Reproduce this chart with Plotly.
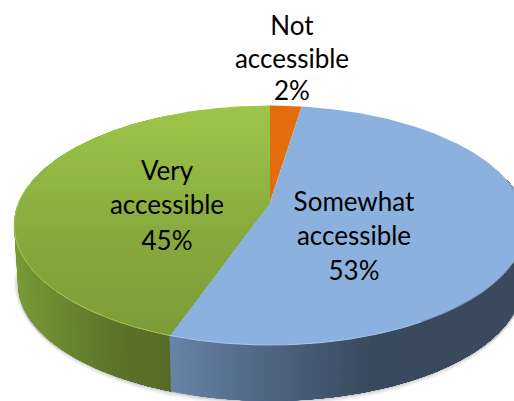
import numpy as np
import plotly.graph_objects as go

# Data
categories = ["Not accessible", "Somewhat accessible", "Very accessible"]
values = [2.4, 52.9, 44.7]
label_names = [["Not", "accessible"], ["Somewhat", "accessible"], ["Very", "accessible"]]
top_colors = ["#E46C0A", "#8CB1DF", "#8FB340"]

# View geometry (a tilted disc seen in perspective, in page pixels)
W, H = 514, 401
CX, CY = 270, 202
A, B, K = 251, 115.2, 0.1946
DEPTH, SHRINK = 58, 0.985
label_pos = {0: (292, [28, 61, 93]), 1: (354, [204, 238, 273]), 2: (167, [173, 207, 243])}


def proj(theta_deg, r=1.0, bottom=False):
    t = np.radians(theta_deg)
    u, v = r * np.sin(t), r * np.cos(t)
    w = 1 + K * v
    s = SHRINK if bottom else 1.0
    return CX + s * A * u / w, CY - s * B * v / w + (DEPTH if bottom else 0)


def arc(a, b, n=None, **kw):
    n = n or max(2, int(abs(b - a) * 2) + 1)
    return proj(np.linspace(a, b, n), **kw)


def clip_below(xs, ys, y0):
    ox, oy = [], []
    m = len(xs)
    for i in range(m):
        x1, y1, x2, y2 = xs[i], ys[i], xs[(i + 1) % m], ys[(i + 1) % m]
        if y1 >= y0:
            ox.append(x1); oy.append(y1)
        if (y1 >= y0) != (y2 >= y0):
            f = (y0 - y1) / (y2 - y1)
            ox.append(x1 + f * (x2 - x1)); oy.append(y0)
    return ox, oy


def mix(stops, p):
    ps = [s[0] for s in stops]
    ch = [np.interp(p, ps, [s[1][i] for s in stops]) for i in range(3)]
    return "rgb(%d,%d,%d)" % tuple(round(c) for c in ch)


fig = go.Figure()


def poly(x, y, color):
    fig.add_trace(go.Scatter(x=list(x), y=list(y), mode="lines", fill="toself", fillcolor=color,
                             line=dict(width=0), hoverinfo="skip", showlegend=False))


def line(x, y, color, width):
    fig.add_trace(go.Scatter(x=list(x), y=list(y), mode="lines", line=dict(color=color, width=width),
                             hoverinfo="skip", showlegend=False))


total = sum(values)
bounds = np.cumsum([0] + [v / total * 360 for v in values])
front_l, front_r = 281.2, 78.8
b_blue_green = bounds[2]

# Soft shadow below the wall
for grow, alpha in [(5, 0.06), (3.5, 0.08), (2, 0.10), (1, 0.12)]:
    x, y = arc(front_r - 10, front_l + 10, bottom=True)
    poly(np.r_[x, x[::-1]], np.r_[y + grow, y[::-1] - 30], "rgba(90,90,90,%.2f)" % alpha)
    x2 = CX + (x - CX) * (1 + grow / 300)
    poly(np.r_[x2, x2[::-1]], np.r_[y, y[::-1] - 30], "rgba(90,90,90,%.2f)" % alpha)

# Wall: painted left to right, each step covering everything still to come
green_stops = [(14, (120, 154, 55)), (60, (106, 136, 48)), (110, (92, 116, 42)), (172, (86, 106, 41))]
blue_stops = [(170, (103, 131, 166)), (270, (78, 100, 128)), (370, (57, 73, 93)), (514, (60, 74, 94))]
for th in np.arange(front_l, b_blue_green, -1):
    xt, yt = arc(th, b_blue_green)
    xb, yb = arc(th, b_blue_green, bottom=True)
    poly(np.r_[xt, xb[::-1]], np.r_[yt, yb[::-1]], mix(green_stops, xt[0]))
for th in np.arange(b_blue_green, front_r, -1):
    xt, yt = arc(th, front_r)
    xb, yb = arc(th, front_r, bottom=True)
    poly(np.r_[xt, xb[::-1]], np.r_[yt, yb[::-1]], mix(blue_stops, xt[0]))

# Top: orange, blue flat, green with vertical gradient
for i in (0, 1):
    x, y = arc(bounds[i], bounds[i + 1])
    poly(np.r_[CX, x], np.r_[CY, y], top_colors[i])
gx, gy = arc(bounds[2], bounds[3])
gx = [CX] + list(gx)
gy = [CY] + list(gy)
g_stops = [(105, (157, 197, 74)), (170, (146, 184, 67)), (240, (134, 168, 60)), (340, (124, 155, 55))]
for yy in np.arange(105, 340, 5):
    cx_, cy_ = clip_below(gx, gy, yy)
    if len(cx_) > 2:
        poly(cx_, cy_, mix(g_stops, yy))

# Rim highlights on the front edge
x, y = arc(front_l, b_blue_green)
line(x, y, "#A6C45C", 1)
x, y = arc(b_blue_green, 150)
line(x, y, "#A6C8EE", 1)
x, y = arc(150, front_r)
line(x, y, "#7F9BBC", 1)

# Labels
pct = [f"{round(v)}%" for v in values]
tx, ty, tt = [], [], []
for i in range(3):
    px, ys = label_pos[i]
    for yy, s in zip(ys, label_names[i] + [pct[i]]):
        tx.append(px); ty.append(yy); tt.append(s)
fig.add_trace(go.Scatter(x=tx, y=ty, text=tt, mode="text", textposition="middle center",
                         textfont=dict(family="Lato", size=26, color="#000000"),
                         hoverinfo="skip", showlegend=False, cliponaxis=False))

fig.update_layout(width=W, height=H, autosize=False, margin=dict(l=0, r=0, t=0, b=0),
                  paper_bgcolor="white", plot_bgcolor="white",
                  xaxis=dict(range=[0, W], visible=False, fixedrange=True),
                  yaxis=dict(range=[H, 0], visible=False, fixedrange=True))
fig.write_html("out.html", config={"displayModeBar": False},
               post_script="document.body.style.margin='0';document.body.style.overflow='hidden';")
